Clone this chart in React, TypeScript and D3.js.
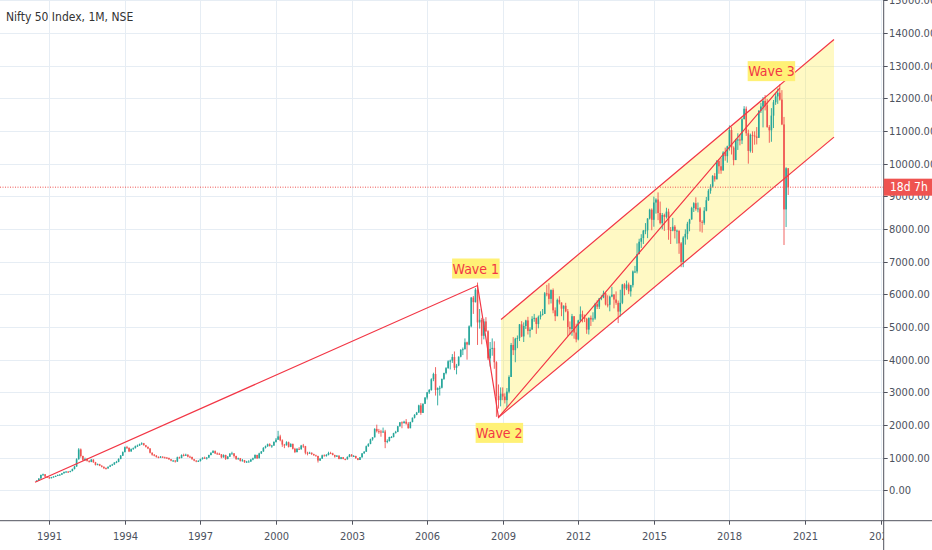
import * as d3 from "d3"

const W = 932
const H = 550

// monthly bars from Jul 1990 (index 0) to May 2020; open = previous close
const firstOpen = 279
const closes = [
  300, 360, 470, 490, 420, 400, // 1990 Jul-Dec
  370, 400, 420, 440, 470, 480, 520, 560, 570, 560, 590, 650,
  730, 950, 1250, 1050, 930, 960, 900, 870, 940, 860, 780, 800,
  750, 720, 680, 670, 720, 760, 790, 850, 870, 960, 1060, 1170,
  1320, 1300, 1190, 1260, 1290, 1350, 1370, 1410, 1440, 1380, 1330, 1280,
  1150, 1090, 1060, 1020, 1000, 1030, 1010, 1000, 990, 950, 910, 910,
  880, 1010, 990, 1080, 1070, 1090, 1030, 1020, 950, 910, 880, 900,
  960, 1000, 970, 1000, 1080, 1150, 1200, 1130, 1120, 1100, 1010, 1080,
  960, 1030, 1120, 1130, 1050, 960, 980, 900, 920, 860, 880, 880,
  940, 980, 1080, 980, 1130, 1190, 1300, 1350, 1410, 1360, 1370, 1480,
  1550, 1650, 1530, 1400, 1380, 1470, 1330, 1420, 1270, 1170, 1270, 1260,
  1370, 1350, 1150, 1130, 1150, 1110, 1070, 1050, 910, 970, 1070, 1060,
  1080, 1140, 1130, 1080, 1030, 1060, 960, 1010, 960, 950, 1020, 1090,
  1040, 1050, 980, 930, 1010, 1130, 1180, 1350, 1420, 1560, 1620, 1880,
  1810, 1800, 1770, 1800, 1480, 1510, 1630, 1630, 1750, 1790, 1960, 2080,
  2060, 2100, 2040, 1900, 2090, 2220, 2310, 2380, 2600, 2370, 2650, 2840,
  3000, 3070, 3400, 3560, 3070, 3130, 3140, 3410, 3590, 3740, 3950, 3970,
  4080, 3750, 3820, 4090, 4300, 4320, 4530, 4460, 5020, 5900, 5760, 6140,
  5140, 5220, 4730, 5170, 4870, 4040, 4330, 4360, 3920, 2890, 2760, 2960,
  2870, 2760, 3020, 3470, 4450, 4290, 4640, 4660, 5080, 4710, 5030, 5200,
  4880, 4920, 5250, 5280, 5090, 5310, 5370, 5400, 6030, 6020, 5860, 6130,
  5510, 5330, 5830, 5750, 5560, 5650, 5480, 5000, 4940, 5330, 4830, 4620,
  5200, 5390, 5300, 5250, 4920, 5280, 5230, 5260, 5700, 5620, 5880, 5900,
  6030, 5690, 5680, 5930, 5990, 5840, 5740, 5470, 5740, 6300, 6180, 6300,
  6090, 6280, 6700, 6700, 7230, 7610, 7720, 7950, 7960, 8320, 8590, 8280,
  8810, 8900, 8490, 8180, 8430, 8370, 8530, 7970, 7950, 8070, 7940, 7950,
  7560, 6990, 7740, 7850, 8160, 8290, 8640, 8790, 8610, 8630, 8220, 8190,
  8560, 8880, 9170, 9300, 9620, 9520, 10080, 9920, 9790, 10340, 10230, 10530,
  11030, 10490, 10110, 10740, 10740, 10710, 11360, 11680, 10930, 10390, 10880, 10860,
  10830, 10790, 11620, 11750, 11920, 11790, 11120, 11020, 11470, 11880, 12060, 12170,
  11960, 11200, 8600, 9860, 9280, // 2020 Jan-May
]
const highs = [
  305, 370, 480, 510, 495, 430,
  405, 410, 430, 450, 480, 495, 530, 575, 590, 590, 600, 665,
  750, 980, 1290, 1280, 1060, 1000, 980, 920, 960, 950, 870, 820,
  810, 770, 730, 700, 730, 780, 810, 860, 900, 980, 1080, 1190,
  1340, 1360, 1310, 1280, 1310, 1370, 1400, 1430, 1470, 1450, 1390, 1340,
  1290, 1160, 1110, 1080, 1040, 1050, 1040, 1030, 1020, 1000, 960, 930,
  920, 1030, 1030, 1100, 1120, 1120, 1100, 1060, 1030, 960, 920, 920,
  970, 1010, 1030, 1020, 1090, 1160, 1230, 1220, 1160, 1150, 1110, 1100,
  1090, 1050, 1140, 1180, 1140, 1060, 1000, 990, 960, 930, 900, 920,
  960, 1000, 1100, 1090, 1150, 1200, 1320, 1370, 1430, 1440, 1390, 1500,
  1600, 1820, 1700, 1560, 1420, 1500, 1490, 1440, 1430, 1300, 1290, 1320,
  1390, 1420, 1360, 1180, 1180, 1160, 1120, 1090, 1060, 990, 1090, 1100,
  1110, 1180, 1180, 1150, 1090, 1080, 1070, 1020, 1020, 970, 1040, 1110,
  1110, 1080, 1060, 990, 1020, 1140, 1200, 1370, 1440, 1580, 1630, 1900,
  2010, 1880, 1850, 1920, 1850, 1560, 1640, 1660, 1760, 1820, 1970, 2090,
  2110, 2130, 2180, 2090, 2100, 2230, 2330, 2400, 2620, 2670, 2660, 2850,
  3010, 3100, 3430, 3600, 3770, 3150, 3200, 3420, 3600, 3770, 3980, 4000,
  4170, 4250, 3870, 4100, 4320, 4370, 4650, 4550, 5050, 5920, 5950, 6190,
  6360, 5550, 5280, 5250, 5300, 4900, 4540, 4650, 4560, 3950, 3240, 3150,
  3150, 2970, 3130, 3520, 4510, 4690, 4670, 4740, 5090, 5180, 5140, 5220,
  5310, 4990, 5330, 5400, 5280, 5350, 5480, 5550, 6070, 6290, 6340, 6150,
  6180, 5600, 5870, 5940, 5720, 5660, 5740, 5550, 5170, 5400, 5330, 5100,
  5220, 5630, 5500, 5380, 5280, 5290, 5350, 5450, 5740, 5820, 5890, 5970,
  6110, 6050, 5970, 5960, 6230, 6010, 6090, 5810, 6140, 6320, 6340, 6420,
  6360, 6290, 6730, 6870, 7560, 7700, 7840, 7970, 8180, 8330, 8620, 8630,
  8990, 8940, 9120, 8840, 8490, 8470, 8650, 8620, 8060, 8340, 8120, 7980,
  7940, 7600, 7780, 7990, 8220, 8310, 8680, 8820, 8970, 8810, 8670, 8270,
  8670, 8980, 9220, 9370, 9650, 9710, 10110, 10140, 10180, 10380, 10490, 10550,
  11170, 11120, 10530, 10760, 10930, 10890, 11390, 11760, 11750, 11040, 10920, 10990,
  10990, 11120, 11640, 11860, 12040, 12100, 11980, 11180, 11700, 11950, 12160, 12300,
  12430, 12250, 11430, 9890, 9580,
]
const lows = [
  275, 295, 355, 450, 410, 385,
  350, 365, 395, 415, 435, 455, 470, 515, 550, 545, 550, 580,
  640, 720, 940, 1000, 900, 900, 880, 850, 860, 840, 760, 770,
  740, 700, 650, 640, 660, 710, 750, 780, 830, 860, 950, 1050,
  1160, 1270, 1170, 1180, 1240, 1280, 1330, 1360, 1390, 1370, 1310, 1260,
  1130, 1060, 1040, 1000, 980, 990, 990, 980, 970, 930, 890, 880,
  850, 870, 970, 980, 1040, 1050, 1010, 1000, 940, 890, 860, 870,
  880, 940, 960, 940, 990, 1070, 1140, 1110, 1090, 1080, 980, 1000,
  930, 950, 1020, 1100, 1000, 930, 940, 880, 880, 840, 840, 860,
  870, 920, 970, 960, 980, 1110, 1180, 1280, 1330, 1340, 1300, 1360,
  1460, 1540, 1500, 1330, 1290, 1370, 1310, 1320, 1250, 1140, 1160, 1240,
  1240, 1300, 1100, 1070, 1120, 1080, 1060, 1040, 850, 900, 960, 1040,
  1030, 1070, 1110, 1070, 1000, 1020, 950, 950, 950, 920, 940, 1010,
  1030, 1030, 970, 920, 930, 1000, 1120, 1180, 1330, 1410, 1520, 1620,
  1770, 1730, 1640, 1760, 1290, 1440, 1490, 1600, 1620, 1740, 1780, 1950,
  1900, 2040, 2010, 1890, 1900, 2080, 2200, 2300, 2370, 2310, 2370, 2640,
  2780, 2950, 3050, 3340, 2900, 2600, 2900, 3120, 3380, 3550, 3720, 3700,
  3900, 3680, 3550, 3800, 4070, 4140, 4310, 4000, 4440, 4990, 5400, 5750,
  4450, 4950, 4470, 4620, 4850, 3990, 3790, 4120, 3720, 2250, 2500, 2570,
  2760, 2660, 2540, 2970, 3480, 4140, 3920, 4350, 4570, 4690, 4540, 4940,
  4770, 4680, 4930, 5160, 4790, 4960, 5230, 5350, 5400, 5940, 5690, 5720,
  5420, 5180, 5350, 5690, 5330, 5200, 5450, 4720, 4760, 4730, 4640, 4530,
  4590, 5160, 5140, 5150, 4790, 4770, 5030, 5160, 5220, 5550, 5550, 5820,
  5880, 5660, 5600, 5480, 5910, 5570, 5680, 5120, 5320, 5700, 5970, 6130,
  6010, 5930, 6210, 6650, 6640, 7240, 7420, 7540, 7840, 7720, 8290, 7960,
  8070, 8470, 8270, 8140, 7990, 7940, 8320, 7670, 7540, 7930, 7710, 7550,
  7240, 6830, 6830, 7520, 7680, 7930, 8290, 8520, 8560, 8510, 7920, 7890,
  8130, 8540, 8860, 9080, 9270, 9450, 9540, 9690, 9690, 9830, 10090, 10030,
  10400, 10280, 9950, 10110, 10420, 10560, 10600, 11360, 10850, 10000, 10340, 10330,
  10580, 10590, 10820, 11550, 11110, 11630, 11100, 10640, 10670, 11090, 11800, 11830,
  11930, 11180, 7510, 8060, 9040,
]

const yearTicks = [1991, 1994, 1997, 2000, 2003, 2006, 2009, 2012, 2015, 2018, 2021, 2024]
const priceTicks = [0, 1000, 2000, 3000, 4000, 5000, 6000, 7000, 8000, 9000, 10000, 11000, 12000, 13000, 14000, 15000]

// drawing points: [month index, price]
const wavePath: [number, number][] = [[-0.8, 245], [210, 6270], [220, 2232], [354, 12312]]
const channelUpper: [number, number][] = [[221.2, 5229], [379.8, 13801]]
const channelLower: [number, number][] = [[220, 2232], [379.8, 10813]]
const waveLabels = [
  { text: "Wave 1", m: 209.2, p: 6270, pos: "above" },
  { text: "Wave 2", m: 220.4, p: 2232, pos: "below" },
  { text: "Wave 3", m: 350, p: 12312, pos: "above" },
]
const lastPrice = 9280
const countdown = "18d 7h"

const UP = "#26a69a"
const DOWN = "#ef5350"
const LINE = "#f23645"
const FONT = "'Liberation Sans Narrow', 'DejaVu Sans Condensed', 'Roboto', sans-serif"

const PLOT_R = 883.7
const PLOT_B = 520.7

export default function App() {
  // month index: 0 = Jul 1990, 6 = Jan 1991
  const x = d3.scaleLinear().domain([6, 366]).range([49.3, 805])
  const y = d3.scaleLinear().domain([0, 14000]).range([490.3, 33])

  const bars = closes.map((c, i) => {
    const o = i === 0 ? firstOpen : closes[i - 1]
    return { i, o, c, h: Math.max(highs[i], o, c), l: Math.min(lows[i], o, c) }
  })

  const line = d3.line<[number, number]>().x(d => x(d[0])).y(d => y(d[1]))

  // lower edge of the channel at the left end, on the lower line
  const lowSlope = (channelLower[1][1] - channelLower[0][1]) / (channelLower[1][0] - channelLower[0][0])
  const lowLeft = channelLower[0][1] + (channelUpper[0][0] - channelLower[0][0]) * lowSlope
  const chan: [number, number][] = [
    channelUpper[0],
    channelUpper[1],
    [channelUpper[1][0], channelLower[1][1]],
    [channelUpper[0][0], lowLeft],
  ]

  const yearX = (yr: number) => Math.round(x((yr - 1991) * 12 + 6)) + 0.5

  return (
    <svg width={W} height={H} style={{ position: "fixed", left: 0, top: 0, background: "#fff" }} fontFamily={FONT}>
      <defs>
        <clipPath id="plot">
          <rect x={0} y={0} width={PLOT_R} height={PLOT_B} />
        </clipPath>
        <clipPath id="timeaxis">
          <rect x={0} y={PLOT_B} width={PLOT_R} height={H - PLOT_B} />
        </clipPath>
      </defs>
      <rect width={W} height={H} fill="#fff" />
      {/* grid */}
      <g stroke="#e6edf4" strokeWidth={1}>
        {yearTicks.map(yr => (
          <line key={yr} x1={yearX(yr)} x2={yearX(yr)} y1={0} y2={PLOT_B} />
        ))}
        {priceTicks.map(p => {
          const yy = Math.round(y(p)) + 0.5
          return <line key={p} x1={0} x2={PLOT_R} y1={yy} y2={yy} />
        })}
      </g>
      <g clipPath="url(#plot)">
        {/* channel fill */}
        <path d={line(chan) + "Z"} fill="rgba(255,235,59,0.3)" />
        {/* candles */}
        {bars.map(b => {
          const cx = x(b.i)
          const col = b.c >= b.o ? UP : DOWN
          const top = y(Math.max(b.o, b.c))
          const hgt = Math.max(1, Math.abs(y(b.o) - y(b.c)))
          return (
            <g key={b.i}>
              <line x1={cx} x2={cx} y1={y(b.h)} y2={y(b.l)} stroke={col} strokeWidth={0.9} />
              <rect x={cx - 0.8} y={top} width={1.6} height={hgt} fill={col} />
            </g>
          )
        })}
        {/* drawings */}
        <g fill="none" stroke={LINE} strokeWidth={1.2}>
          <path d={line(wavePath) ?? ""} />
          <path d={line(channelUpper) ?? ""} />
          <path d={line(channelLower) ?? ""} />
        </g>
        {/* last price line */}
        <line x1={0} x2={PLOT_R} y1={y(lastPrice)} y2={y(lastPrice)} stroke={DOWN} strokeWidth={1} strokeDasharray="1,1.5" />
      </g>
      {/* wave labels */}
      {waveLabels.map(w => {
        const cx = x(w.m)
        const py = y(w.p)
        const bw = 47.5
        const bh = 20
        const by = w.pos === "above" ? py - 7 - bh : py + 5.5
        return (
          <g key={w.text}>
            <rect x={cx - bw / 2} y={by} width={bw} height={bh} fill="#fff176" />
            <text x={cx} y={by + bh / 2} dy="0.36em" textAnchor="middle" fontSize={14} fill="#f23645">{w.text}</text>
          </g>
        )
      })}
      {/* axes */}
      <line x1={0} x2={W} y1={PLOT_B} y2={PLOT_B} stroke="#50535e" strokeWidth={1} />
      <line x1={PLOT_R} x2={PLOT_R} y1={0} y2={H} stroke="#50535e" strokeWidth={1} />
      <g clipPath="url(#timeaxis)">
        {yearTicks.map(yr => (
          <g key={yr}>
            <line x1={yearX(yr)} x2={yearX(yr)} y1={PLOT_B} y2={PLOT_B + 4} stroke="#50535e" />
            <text x={yearX(yr)} y={540} textAnchor="middle" fontSize={11} fill="#4c525e">{yr}</text>
          </g>
        ))}
      </g>
      {priceTicks.map(p => {
        const yy = Math.round(y(p)) + 0.5
        return (
          <g key={p}>
            <line x1={PLOT_R} x2={PLOT_R + 4} y1={yy} y2={yy} stroke="#50535e" />
            <text x={889} y={yy} dy="0.35em" fontSize={11} fill="#4c525e">{p.toFixed(2)}</text>
          </g>
        )
      })}
      {/* countdown badge */}
      <rect x={PLOT_R} y={y(lastPrice) - 8.5} width={W - PLOT_R} height={17} fill={DOWN} />
      <text x={890} y={y(lastPrice)} dy="0.36em" fontSize={12} fill="#fff">{countdown}</text>
      {/* title */}
      <text x={6} y={21} fontSize={12} fill="#333">Nifty 50 Index, 1M, NSE</text>
    </svg>
  )
}
